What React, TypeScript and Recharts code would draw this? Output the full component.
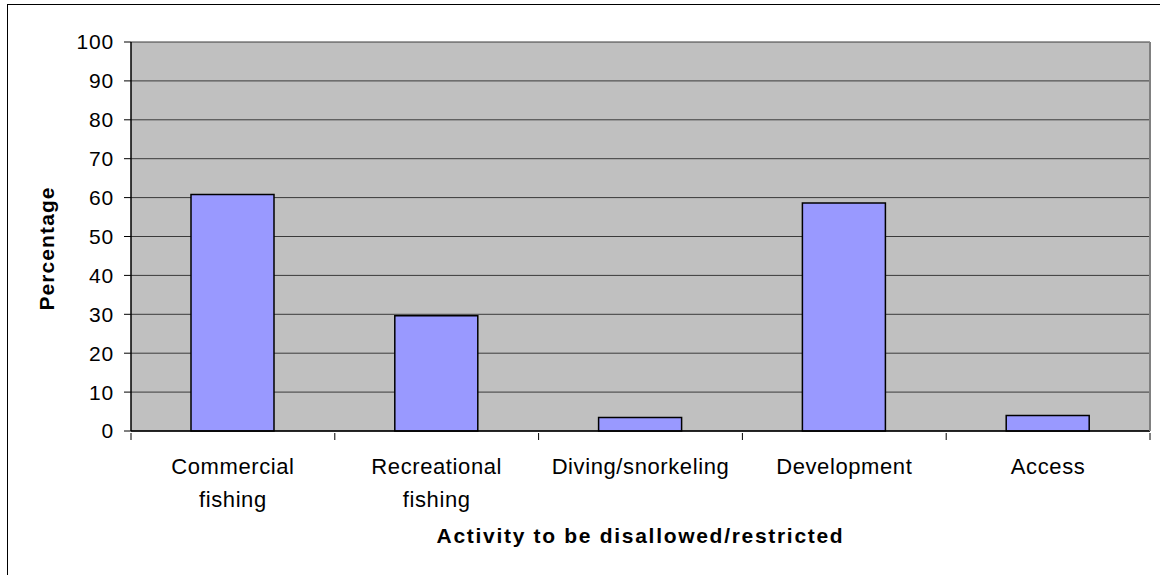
import React from "react";
import { BarChart, Bar, XAxis, YAxis, CartesianGrid, Label } from "recharts";

const activities = [
  "Commercial fishing",
  "Recreational fishing",
  "Diving/snorkeling",
  "Development",
  "Access",
];
const percentages = [60.8, 29.6, 3.5, 58.6, 4.0];
const yTicks = [0, 10, 20, 30, 40, 50, 60, 70, 80, 90, 100];

// label lines for the wrapped category names
const labelLines: Record<string, string[]> = {
  "Commercial fishing": ["Commercial", "fishing"],
  "Recreational fishing": ["Recreational", "fishing"],
};

const data = activities.map((name, i) => ({ name, value: percentages[i] }));

const FONT = "'Liberation Sans', Arial, sans-serif";

function CategoryTick(props: any) {
  const { x, y, payload, index, width, visibleTicksCount } = props;
  const band = width / visibleTicksCount;
  const lines = labelLines[payload.value] || [payload.value];
  const left = x - band / 2;
  return (
    <g>
      <line x1={left} x2={left} y1={y} y2={y + 7} stroke="#000" strokeWidth={1} />
      {index === visibleTicksCount - 1 && (
        <line x1={x + band / 2} x2={x + band / 2} y1={y} y2={y + 7} stroke="#000" strokeWidth={1} />
      )}
      <text
        x={x}
        y={y + 41}
        textAnchor="middle"
        fontFamily={FONT}
        fontSize={22}
        letterSpacing={0.6}
        fill="#000"
      >
        {lines.map((line, i) => (
          <tspan key={line} x={x} dy={i === 0 ? 0 : 33}>
            {line}
          </tspan>
        ))}
      </text>
    </g>
  );
}

export default function App() {
  return (
    <div style={{ position: "absolute", left: 0, top: 0, width: 1160, height: 575, background: "#fff" }}>
      <div
        style={{
          position: "absolute",
          left: 7,
          top: 4,
          width: 1153,
          height: 571,
          borderLeft: "1.5px solid #000",
          borderTop: "1.5px solid #000",
          boxSizing: "border-box",
        }}
      />
      <div style={{ position: "absolute", left: 0, top: 0 }}>
        <BarChart
          width={1160}
          height={575}
          data={data}
          margin={{ top: 42, right: 9, bottom: 0, left: 0 }}
        >
          <CartesianGrid
            yAxisId="left"
            vertical={false}
            stroke="#3a3a3a"
            strokeWidth={1}
            fill="#C0C0C0"
            fillOpacity={1}
          />
          <XAxis
            dataKey="name"
            height={144}
            tickSize={0}
            tickLine={false}
            interval={0}
            axisLine={{ stroke: "#000", strokeWidth: 1.5 }}
            tick={<CategoryTick />}
          >
            <Label
              value="Activity to be disallowed/restricted"
              position="insideBottom"
              offset={32}
              fontFamily={FONT}
              fontSize={21}
              fontWeight="bold"
              letterSpacing={1.7}
              fill="#000"
            />
          </XAxis>
          <YAxis
            yAxisId="left"
            width={131}
            domain={[0, 100]}
            ticks={yTicks}
            interval={0}
            tickSize={7}
            tickMargin={10}
            axisLine={{ stroke: "#000", strokeWidth: 1.5 }}
            tickLine={{ stroke: "#000" }}
            tick={{ fontFamily: FONT, fontSize: 21, fill: "#000", letterSpacing: 0.8 }}
          >
            <Label
              content={(p: any) => {
                const vb = p.viewBox;
                const cx = vb.x + 54;
                const cy = vb.y + vb.height / 2 + 12;
                return (
                  <text
                    x={cx}
                    y={cy}
                    transform={`rotate(-90, ${cx}, ${cy})`}
                    textAnchor="middle"
                    fontFamily={FONT}
                    fontSize={21}
                    fontWeight="bold"
                    letterSpacing={1.1}
                    fill="#000"
                  >
                    Percentage
                  </text>
                );
              }}
            />
          </YAxis>
          <YAxis
            yAxisId="right"
            orientation="right"
            width={1}
            domain={[0, 100]}
            tick={false}
            tickLine={false}
            axisLine={{ stroke: "#808080", strokeWidth: 2 }}
          />
          <Bar
            yAxisId="left"
            dataKey="value"
            barSize={83}
            fill="#9999FF"
            stroke="#000"
            strokeWidth={1.5}
            isAnimationActive={false}
          />
        </BarChart>
      </div>
    </div>
  );
}
